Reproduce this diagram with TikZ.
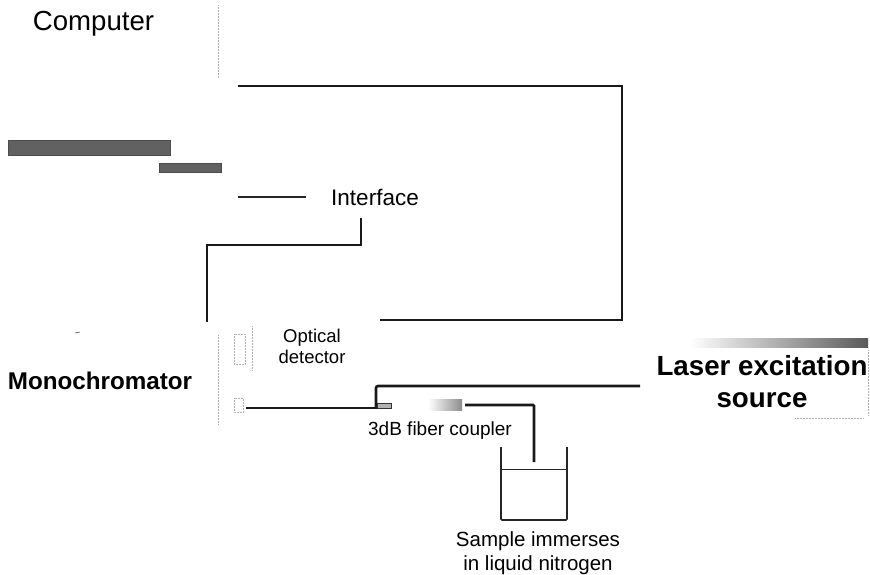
\documentclass[tikz,border=0pt]{standalone}
\usepackage{fontspec}
\setmainfont{Liberation Sans}
\tikzset{
    fibra/.style={line width=2.6pt, black!90},
    cable/.style={line width=2.6pt, black!90},
    fino/.style={line width=1pt, black!85},
    punteado/.style={densely dotted, gray!60, line width=0.5pt},
    barra/.style={fill=black!62, draw=black!70, line width=0.4pt},
    etiqueta/.style={inner sep=0pt, align=center, text=black},
}
\begin{document}
\begin{tikzpicture}[x=1pt, y=-1pt]
    \useasboundingbox (0,0) rectangle (870,574);

    % Textos
    \node[etiqueta, font=\fontsize{27.6}{27.6}\selectfont] (computer) at (93.5,24) {Computer};
    \node[etiqueta, font=\fontsize{22.5}{22.5}\selectfont] (interface) at (375,197) {Interface};
    \node[etiqueta, font=\fontsize{18.5}{21}\selectfont] (detector) at (312,346) {Optical\\detector};
    \node[etiqueta, font=\bfseries\fontsize{24.2}{24.2}\selectfont] (mono) at (100,381) {Monochromator};
    \node[etiqueta, font=\bfseries\fontsize{27.7}{32}\selectfont] (laser) at (762,382) {Laser excitation\\source};
    \node[etiqueta, font=\fontsize{19}{19}\selectfont] (acoplador) at (440,431) {3dB fiber coupler};
    \node[etiqueta, font=\fontsize{20.5}{23.5}\selectfont] (muestra) at (538,553) {Sample immerses\\in liquid nitrogen};

    % Barras del ordenador
    \node[barra, minimum width=162pt, minimum height=15pt, inner sep=0pt] (barraA) at (89,147.5) {};
    \node[barra, minimum width=62pt, minimum height=9pt, inner sep=0pt] (barraB) at (190,167.5) {};

    % Barra degradada del laser
    \node[left color=white, right color=black!65, minimum width=178pt, minimum height=9pt, inner sep=0pt] (barraL) at (779,342.5) {};

    % Puntos de union
    \coordinate (pcA) at (238,86);
    \coordinate (pcB) at (622,86);
    \coordinate (pcC) at (622,320);
    \coordinate (pcD) at (380,320);
    \coordinate (intA) at (238,197);
    \coordinate (intB) at (306,197);
    \coordinate (intC) at (361,218);
    \coordinate (intD) at (361,245);
    \coordinate (intE) at (207,245);
    \coordinate (intF) at (207,322);
    \coordinate (fibA) at (246,408);
    \coordinate (fibB) at (391,408);
    \coordinate (fibC) at (376,408);
    \coordinate (fibD) at (376,386);
    \coordinate (fibE) at (640,386);
    \coordinate (fibF) at (465,405);
    \coordinate (fibG) at (534,405);
    \coordinate (fibH) at (534,462);

    % Conexiones
    \draw[cable] (pcA) -- (pcB) -- (pcC) -- (pcD);
    \draw[fino, line width=1.6pt] (intA) -- (intB);
    \draw[cable] (intC) -- (intD) -- (intE) -- (intF);
    \draw[fibra] (fibA) -- (fibB);
    \draw[fibra, rounded corners=2pt] (fibC) -- (fibD) -- (fibE);
    \draw[fibra, rounded corners=1pt] (fibF) -- (fibG) -- (fibH);

    % Acoplador
    \node[left color=white, right color=black!45, minimum width=34pt, minimum height=11pt, inner sep=0pt] (cuerpo) at (445,405) {};
    \node[draw=black!80, fill=black!30, line width=0.4pt, minimum width=14pt, minimum height=5pt, inner sep=0pt] (union) at (384,405.5) {};

    % Recipiente con nitrogeno
    \coordinate (vasoA) at (501,447);
    \coordinate (vasoB) at (501,520);
    \coordinate (vasoC) at (567,520);
    \coordinate (vasoD) at (567,447);
    \coordinate (nivelA) at (501,469);
    \coordinate (nivelB) at (567,469);
    \draw[fino, line width=1.6pt, rounded corners=1pt] (vasoA) -- (vasoB) -- (vasoC) -- (vasoD);
    \draw[fino] (nivelA) -- (nivelB);

    % Restos punteados
    \draw[punteado] (218,5) -- (218,78);
    \draw[punteado] (218,335) -- (218,425);
    \draw[punteado] (252,326) -- (252,370);
    \draw[punteado] (234,334) rectangle (245,364);
    \draw[punteado] (234,398) rectangle (243,412);
    \draw[punteado] (868,350) -- (868,415);
    \draw[punteado] (795,418) -- (864,418);
    \draw[black!70, line width=0.6pt] (75,333) -- (80,332);
\end{tikzpicture}
\end{document}
